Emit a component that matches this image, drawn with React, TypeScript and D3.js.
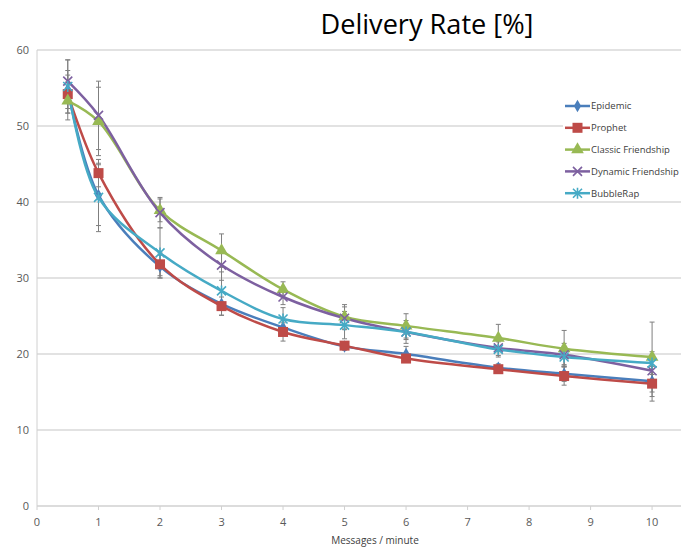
import React, { useEffect, useRef } from "react";
import * as d3 from "d3";

// messages per minute (60 / interval in seconds)
const xValues = [0.5, 1, 2, 3, 4, 5, 6, 7.5, 8.57, 10];

const epidemic = [54.8, 40.9, 31.5, 26.6, 23.5, 21.0, 20.0, 18.2, 17.4, 16.4];
const prophet = [54.2, 43.8, 31.8, 26.3, 22.9, 21.1, 19.4, 18.0, 17.1, 16.1];
const classicFriendship = [53.3, 50.6, 38.9, 33.6, 28.5, 24.9, 23.7, 22.1, 20.7, 19.6];
const dynamicFriendship = [55.9, 51.4, 38.6, 31.7, 27.5, 24.7, 22.9, 20.8, 19.9, 17.8];
const bubbleRap = [55.2, 40.6, 33.3, 28.3, 24.6, 23.8, 22.9, 20.6, 19.6, 18.8];

// error bar half-widths
const epidemicErr = [2.5, 4, 1.5, 1.5, 1, 0.5, 1, 0.5, 1, 2];
const prophetErr = [2.5, 1.8, 1.5, 1.2, 1.2, 0.5, 0.5, 0.5, 1.2, 2.3];
const classicErr = [2.5, 4.5, 1.5, 2.2, 1, 1.6, 1.6, 1.8, 2.4, 4.6];
const dynamicErr = [2.8, 4.5, 2, 2, 1, 1.5, 1, 1, 1.5, 2];
const bubbleErr = [3.5, 4.5, 3.3, 2.5, 1.5, 1.8, 1.5, 1, 1, 1.5];

const seriesNames = ["Epidemic", "Prophet", "Classic Friendship", "Dynamic Friendship", "BubbleRap"];
const seriesColors = ["#4a7ebb", "#be4b48", "#98b954", "#7d60a0", "#46aac5"];
const seriesMarkers = ["diamond", "square", "triangle", "x", "star"];
const seriesValues = [epidemic, prophet, classicFriendship, dynamicFriendship, bubbleRap];
const seriesErrors = [epidemicErr, prophetErr, classicErr, dynamicErr, bubbleErr];

const yTicks = [0, 10, 20, 30, 40, 50, 60];
const xTicks = [0, 1, 2, 3, 4, 5, 6, 7, 8, 9, 10];

const width = 691;
const height = 547;
const marginLeft = 37;
const marginRight = 10;
const marginTop = 50;
const marginBottom = 41;

const font = "'Open Sans', 'Noto Sans', sans-serif";

function drawMarker(g, type, cx, cy, color) {
  if (type === "diamond") {
    g.append("path")
      .attr("d", d3.symbol(d3.symbolDiamond, 45)())
      .attr("transform", `translate(${cx},${cy})`)
      .attr("fill", color);
  } else if (type === "square") {
    g.append("rect")
      .attr("x", cx - 5)
      .attr("y", cy - 5)
      .attr("width", 10)
      .attr("height", 10)
      .attr("fill", color);
  } else if (type === "triangle") {
    g.append("path")
      .attr("d", d3.symbol(d3.symbolTriangle, 70)())
      .attr("transform", `translate(${cx},${cy})`)
      .attr("fill", color);
  } else {
    const s = 4.5;
    const p = `M${cx - s},${cy - s}L${cx + s},${cy + s}M${cx - s},${cy + s}L${cx + s},${cy - s}` +
      (type === "star" ? `M${cx},${cy - s - 1}L${cx},${cy + s + 1}` : "");
    g.append("path").attr("d", p).attr("stroke", color).attr("stroke-width", 1.6).attr("fill", "none");
  }
}

const App = () => {
  const svgRef = useRef(null);

  useEffect(() => {
    const svg = d3.select(svgRef.current);
    svg.selectAll("*").remove();

    const x = d3.scaleLinear().domain([0, 10.47]).range([marginLeft, width - marginRight]);
    const y = d3.scaleLinear().domain([0, 60]).range([height - marginBottom, marginTop]);

    // Gridlines
    svg.append("g")
      .selectAll("line")
      .data(yTicks.slice(1))
      .enter()
      .append("line")
      .attr("x1", marginLeft)
      .attr("x2", width - marginRight)
      .attr("y1", (d) => y(d))
      .attr("y2", (d) => y(d))
      .attr("stroke", "#d9d9d9")
      .attr("stroke-width", 1.3);

    // Axes lines
    svg.append("line")
      .attr("x1", marginLeft).attr("x2", marginLeft)
      .attr("y1", y(60)).attr("y2", y(0))
      .attr("stroke", "#d0d0d0");
    svg.append("line")
      .attr("x1", marginLeft).attr("x2", width - marginRight)
      .attr("y1", y(0)).attr("y2", y(0))
      .attr("stroke", "#d0d0d0").attr("stroke-width", 1.3);

    // y labels
    svg.append("g")
      .selectAll("text")
      .data(yTicks)
      .enter()
      .append("text")
      .attr("x", marginLeft - 8)
      .attr("y", (d) => y(d))
      .attr("dy", "0.35em")
      .attr("text-anchor", "end")
      .attr("font-family", font)
      .attr("font-size", 11)
      .attr("fill", "#595959")
      .text((d) => d);

    // x ticks + labels
    const xg = svg.append("g");
    xTicks.forEach((t) => {
      xg.append("line")
        .attr("x1", x(t)).attr("x2", x(t))
        .attr("y1", y(0)).attr("y2", y(0) + 4)
        .attr("stroke", "#d0d0d0");
      xg.append("text")
        .attr("x", x(t))
        .attr("y", y(0) + 20)
        .attr("text-anchor", "middle")
        .attr("font-family", font)
        .attr("font-size", 11)
        .attr("fill", "#595959")
        .text(t);
    });

    svg.append("text")
      .attr("x", 375)
      .attr("y", 544)
      .attr("text-anchor", "middle")
      .attr("font-family", font)
      .attr("font-size", 10)
      .attr("fill", "#404040")
      .text("Messages / minute");

    // Title
    svg.append("text")
      .attr("x", 427)
      .attr("y", 34)
      .attr("text-anchor", "middle")
      .attr("font-family", font)
      .attr("font-size", 27)
      .attr("fill", "#000")
      .attr("textLength", 213)
      .attr("lengthAdjust", "spacingAndGlyphs")
      .text("Delivery Rate [%]");

    // Error bars
    const eg = svg.append("g");
    seriesValues.forEach((vals, si) => {
      vals.forEach((v, i) => {
        const e = seriesErrors[si][i];
        const cx = x(xValues[i]);
        eg.append("path")
          .attr("d", `M${cx},${y(v - e)}L${cx},${y(v + e)}M${cx - 2.5},${y(v - e)}L${cx + 2.5},${y(v - e)}M${cx - 2.5},${y(v + e)}L${cx + 2.5},${y(v + e)}`)
          .attr("stroke", "#7f7f7f")
          .attr("stroke-width", 1)
          .attr("fill", "none");
      });
    });

    // Lines
    const line = d3.line()
      .x((d, i) => x(xValues[i]))
      .y((d) => y(d))
      .curve(d3.curveCatmullRom.alpha(0.5));

    seriesValues.forEach((vals, si) => {
      svg.append("path")
        .datum(vals)
        .attr("fill", "none")
        .attr("stroke", seriesColors[si])
        .attr("stroke-width", 2.5)
        .attr("d", line);
    });

    seriesValues.forEach((vals, si) => {
      const mg = svg.append("g");
      vals.forEach((v, i) => drawMarker(mg, seriesMarkers[si], x(xValues[i]), y(v), seriesColors[si]));
    });

    // Legend
    const lg = svg.append("g");
    lg.append("rect")
      .attr("x", 563).attr("y", 90)
      .attr("width", 118).attr("height", 108)
      .attr("fill", "#fff");
    seriesNames.forEach((name, i) => {
      const ly = 106 + i * 21.8;
      lg.append("line")
        .attr("x1", 565).attr("x2", 590)
        .attr("y1", ly).attr("y2", ly)
        .attr("stroke", seriesColors[i])
        .attr("stroke-width", 2.5);
      drawMarker(lg, seriesMarkers[i], 577.5, ly, seriesColors[i]);
      lg.append("text")
        .attr("x", 591)
        .attr("y", ly)
        .attr("dy", "0.35em")
        .attr("font-family", font)
        .attr("font-size", 9.5)
        .attr("fill", "#404040")
        .text(name);
    });
  }, []);

  return (
    <svg
      ref={svgRef}
      width={width}
      height={height}
      style={{ position: "absolute", left: 0, top: 0, background: "#fff" }}
    ></svg>
  );
};

export default App;
